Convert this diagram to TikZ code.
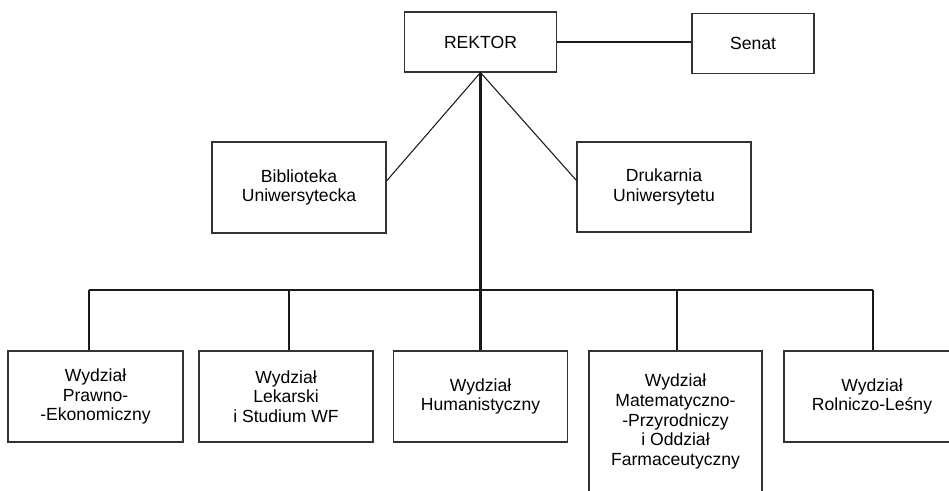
\documentclass[tikz,border=0pt]{standalone}
\usepackage{fontspec}
\setmainfont{Liberation Sans}
\usepackage{tikz}
\pgfkeys{tikz/orgbox/.style={draw=black!80, line width=0.6pt, 
                                 align=center, inner sep=0pt, 
                                 font=\fontsize{10}{11.2}\selectfont}}
\pgfkeys{tikz/mainline/.style={line width=1.2pt, black!90}}
\pgfkeys{tikz/sideline/.style={line width=0.6pt, black!90}}

\begin{document}
\begin{tikzpicture}
                \useasboundingbox (0,0) rectangle (18.98,-9.80);

                \node[orgbox, minimum width=3.04cm, minimum height=1.20cm] (rektor) at (9.61,-0.84) {REKTOR};
                \node[orgbox, minimum width=2.44cm, minimum height=1.20cm] (senat) at (15.06,-0.87) {Senat};

                \draw[mainline] (rektor.east) -- (rektor.east -| senat.west);

                \node[orgbox, minimum width=3.48cm, minimum height=1.82cm] (bib) at (5.98,-3.75) {Biblioteka\\Uniwersytecka};
                \node[orgbox, minimum width=3.48cm, minimum height=1.80cm] (druk) at (13.28,-3.74) {Drukarnia\\Uniwersytetu};

                \draw[sideline] (rektor.south) -- ([yshift=0.13cm]bib.east);
                \draw[sideline] (rektor.south) -- ([yshift=0.13cm]druk.west);

                \node[orgbox, minimum width=3.50cm, minimum height=1.82cm] (w1) at (1.91,-7.93) {Wydział\\Prawno-\\-Ekonomiczny};
                \node[orgbox, minimum width=3.48cm, minimum height=1.82cm] (w2) at (5.72,-7.93) {Wydział\\Lekarski\\i Studium WF};
                \node[orgbox, minimum width=3.48cm, minimum height=1.82cm] (w3) at (9.61,-7.93) {Wydział\\Humanistyczny};
                \node[orgbox, minimum width=3.46cm, minimum height=2.82cm] (w4) at (13.51,-8.43) {Wydział\\Matematyczno-\\-Przyrodniczy\\i Oddział\\Farmaceutyczny};
                \node[orgbox, minimum width=3.52cm, minimum height=1.82cm] (w5) at (17.44,-7.93) {Wydział\\Rolniczo-Leśny};

                \coordinate (bus) at (9.61,-5.80);

                \draw[mainline] (rektor.south) -- (rektor.south |- w3.north);
                \draw[mainline] ([xshift=-0.13cm]w1.north |- bus) -- ([xshift=0.02cm]w5.north |- bus);
                \draw[mainline] ([xshift=-0.13cm]w1.north |- bus) -- ([xshift=-0.13cm]w1.north);
                \draw[mainline] ([xshift=0.06cm]w2.north |- bus) -- ([xshift=0.06cm]w2.north);
                \draw[mainline] ([xshift=0.03cm]w4.north |- bus) -- ([xshift=0.03cm]w4.north);
                \draw[mainline] ([xshift=0.02cm]w5.north |- bus) -- ([xshift=0.02cm]w5.north);

            \end{tikzpicture}
\end{document}
